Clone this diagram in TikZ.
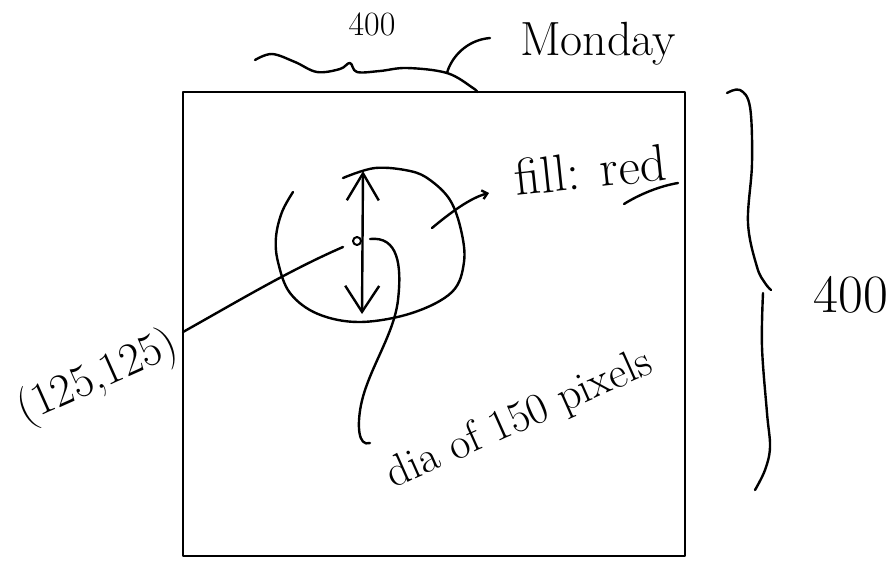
\documentclass[tikz,border=0pt]{standalone}
\usetikzlibrary{arrows.meta}
\begin{document}
\begin{tikzpicture}[x=1pt,y=-1pt,line cap=round,line join=round,
  ink/.style={line width=2.4pt,black},
  hand/.style={font=\fontsize{48}{48}\selectfont,inner sep=0pt}]
\useasboundingbox (0,0) rectangle (893,563);
% drawing area
\node[draw,line width=2.4pt,minimum width=502pt,minimum height=464pt,inner sep=0pt] (canvas) at (434,324) {};
% hand-drawn circle (open at top left)
\draw[ink] plot[smooth,tension=0.6] coordinates {(343,178) (375,168) (410,171) (430,180) (450,200) (461,230) (464,262) (452,292) (412,313) (360,322) (318,314) (290,293) (278,262) (276,237) (282,212) (293,192)};
% centre dot
\node[circle,draw,line width=2pt,minimum size=8pt,inner sep=0pt] (dot) at (357,241) {};
% diameter arrow
\coordinate (dtop) at (363,171);
\coordinate (dbot) at (362,314);
\draw[ink,{Straight Barb[length=27pt,width=32pt]}-{Straight Barb[length=26pt,width=34pt]}] (dtop) -- (dbot);
% top wave (400) and Monday
\draw[ink] plot[smooth,tension=0.6] coordinates {(255,60) (272,54) (295,62) (317,72) (340,69) (350,63) (357,72) (380,71) (407,68) (447,73) (473,88) (477,92)};
\coordinate (wv) at (447,73);
\coordinate (mon) at (490,38);
\draw[ink] (wv) .. controls (451,58) and (466,40) .. (mon);
\node[hand,font=\fontsize{34}{34}\selectfont,anchor=base] (w400) at (372,35) {400};
\node[hand,anchor=base] (monday) at (598,55) {Monday};
% fill: red
\coordinate (fs) at (432,228);
\coordinate (fe) at (489,193);
\draw[ink,-{Straight Barb[length=5pt,width=9pt]}] (fs) .. controls (450,213) and (470,198) .. (fe);
\node[hand,anchor=base,rotate=6,font=\fontsize{52}{52}\selectfont] (fill) at (592,188) {fill: red};
\coordinate (ul1) at (624,204);
\coordinate (ul2) at (678,183);
\draw[ink] (ul1) .. controls (640,194) and (660,186) .. (ul2);
% centre coordinate label
\coordinate (cl) at (343,247);
\coordinate (cw) at (183,332);
\draw[ink] (cl) .. controls (290,270) and (240,300) .. (cw);
\node[hand,rotate=24,font=\fontsize{46}{46}\selectfont] (coord) at (98,378) {(125,125)};
% diameter label
\coordinate (cr) at (370,239);
\coordinate (de) at (370,443);
\draw[ink] (cr) .. controls (398,236) and (402,265) .. (398,300) .. controls (394,335) and (368,370) .. (361,405) .. controls (357,425) and (358,447) .. (de);
\node[hand,rotate=24,font=\fontsize{44}{44}\selectfont] (dia) at (520,420) {dia of 150 pixels};
% right brace and height
\draw[ink] plot[smooth,tension=0.6] coordinates {(727,93) (740,90) (750,107) (752,163) (748,223) (757,267) (765,283) (771,290)};
\draw[ink] plot[smooth,tension=0.6] coordinates {(763,293) (762,347) (767,413) (770,447) (765,470) (755,490)};
\node[hand,font=\fontsize{54}{54}\selectfont,anchor=base] (h400) at (851,312) {400};
\end{tikzpicture}
\end{document}
